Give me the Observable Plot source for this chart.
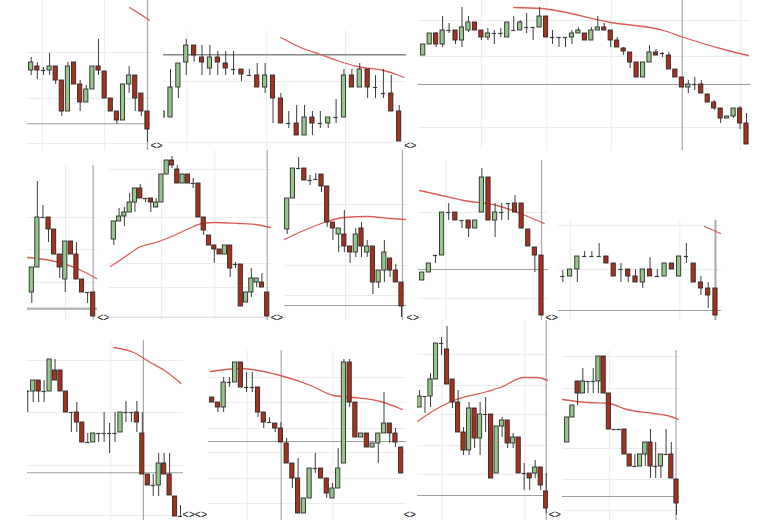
<!DOCTYPE html>
<html><head><meta charset="utf-8">
<script src="https://cdn.jsdelivr.net/npm/d3@7"></script>
<script src="https://cdn.jsdelivr.net/npm/@observablehq/plot@0.6"></script>
<style>
body{margin:0;background:#fff;}
#wrap{position:relative;width:774px;height:526px;overflow:hidden;background:#fff;}
.panel{position:absolute;}
.panel svg{overflow:visible;display:block;background:none;}
</style></head><body><div id="wrap"></div>
<script>
// Candles: [open, high, low, close]
const candlesA = [[80,93,75,88],[84,88,71,80],[80,83,75,80],[80,97,75,84],[84,84,66,70],[70,70,34,39],[39,88,39,84],[88,88,66,66],[66,70,39,48],[48,65,48,61],[61,84,61,84],[84,111,75,80],[79,79,52,52],[52,52,39,39],[39,39,26,30],[30,66,30,66],[66,84,57,75],[75,75,39,52],[57,57,34,39],[39,39,8,21]];
const candlesB = [[33,39,33,39],[33,81,33,63],[63,87,52,87],[88,111,75,105],[105,105,88,95],[93,105,75,88],[82,105,75,93],[93,99,75,88],[87,99,75,82],[81,99,75,81],[81,81,69,76],[75,81,75,75],[75,87,63,63],[63,87,57,75],[75,75,27,52],[52,57,27,27],[27,39,22,27],[27,45,15,15],[15,45,15,33],[33,39,15,27],[27,39,22,27],[27,33,22,33],[33,51,27,33],[33,81,33,75],[75,81,63,63],[63,87,63,81],[81,81,52,63],[63,75,52,63],[57,81,52,57],[57,75,39,39],[39,45,9,9]];
const candlesC = [[95,106,95,106],[106,117,106,117],[117,118,103,106],[106,134,103,120],[120,127,117,120],[120,120,106,110],[110,143,103,123],[120,134,118,128],[128,128,120,120],[120,120,110,113],[113,122,110,117],[117,120,106,117],[117,122,113,117],[113,128,113,128],[120,134,120,120],[120,130,120,128],[123,137,117,123],[123,123,110,123],[123,143,123,134],[134,134,113,113],[113,120,106,113],[113,113,103,113],[113,113,103,113],[113,120,106,117],[117,123,117,120],[117,117,110,110],[110,123,110,120],[120,134,120,123],[123,127,120,120],[120,120,103,110],[110,113,103,103],[102,103,95,99],[98,98,82,88],[88,88,73,73],[73,88,73,88],[88,105,88,98],[98,101,95,95],[97,98,93,97],[95,98,81,81],[81,81,73,73],[73,73,63,63],[63,70,57,66],[66,73,60,66],[66,70,57,57],[56,56,48,48],[48,50,40,42],[42,42,27,32],[32,34,32,34],[34,42,32,42],[42,44,21,27],[27,37,6,6]];
const candlesD = [[28,53,17,53],[53,139,53,103],[103,115,103,103],[103,103,78,91],[91,91,66,66],[66,66,42,53],[41,79,28,79],[79,79,66,66],[66,78,41,41],[41,41,28,28],[28,28,17,28],[28,28,4,4]];
const candlesE = [[81,99,75,99],[99,112,99,104],[104,113,94,108],[108,127,108,118],[118,132,108,132],[132,136,122,122],[122,122,118,122],[122,122,108,118],[113,122,113,118],[118,146,118,146],[146,160,146,160],[160,164,152,155],[151,155,137,137],[137,146,137,146],[146,146,137,137],[137,142,132,137],[137,137,103,103],[103,103,85,90],[85,85,75,75],[75,75,57,71],[71,71,66,66],[66,75,66,75],[75,75,43,52],[56,58,52,56],[56,56,14,14],[18,28,18,28],[28,52,23,42],[38,42,33,42],[38,47,33,33],[28,28,4,4]];
const candlesF = [[91,122,86,122],[122,152,122,152],[152,163,152,152],[152,152,140,140],[140,145,135,140],[141,147,141,141],[146,146,128,134],[134,134,93,98],[98,98,80,92],[86,92,68,92],[86,110,68,74],[74,74,57,68],[68,92,63,86],[92,98,63,74],[68,80,63,74],[74,74,26,38],[38,50,32,50],[50,80,38,68],[62,62,43,50],[50,56,38,38],[38,38,3,14]];
const candlesG = [[40,48,40,48],[48,57,48,57],[65,65,57,65],[65,108,65,108],[108,117,100,108],[108,108,100,100],[100,100,92,100],[100,100,83,92],[92,100,92,100],[108,152,108,143],[143,143,100,100],[100,117,83,108],[108,117,100,108],[117,117,100,117],[117,125,108,108],[117,117,92,92],[91,91,74,74],[73,73,48,65],[65,65,5,5]];
const candlesH = [[44,50,38,44],[44,51,44,51],[51,64,38,64],[64,69,64,64],[64,69,64,64],[64,77,64,64],[64,64,57,57],[57,57,44,44],[51,57,38,51],[51,51,38,44],[44,51,38,38],[38,51,32,51],[51,63,44,44],[44,51,44,44],[44,57,44,57],[57,57,51,51],[44,64,44,64],[64,77,57,64],[57,57,38,38],[38,44,25,32],[32,38,12,25],[32,32,5,5]];
const candlesI = [[135,136,114,135],[135,146,124,146],[146,146,124,135],[135,146,124,135],[135,167,135,167],[156,167,146,146],[156,156,135,135],[135,135,114,114],[114,114,94,114],[114,124,94,104],[104,104,84,84],[84,93,84,84],[84,93,84,93],[93,93,84,93],[93,114,84,93],[93,103,73,93],[93,114,84,93],[94,114,94,114],[114,125,104,114],[114,114,104,114],[114,125,94,104],[93,114,52,52],[52,52,41,41],[41,52,30,41],[41,73,30,63],[63,73,52,52],[52,73,31,31],[30,30,10,10],[10,21,10,10]];
const candlesJ = [[129,129,124,124],[124,124,114,119],[119,149,114,144],[144,149,139,144],[144,164,144,164],[164,164,139,139],[139,154,134,139],[139,154,134,139],[139,139,109,114],[114,114,98,104],[104,109,104,104],[103,103,94,98],[98,104,84,84],[83,88,63,63],[63,63,38,48],[48,68,13,13],[13,28,13,28],[28,58,28,58],[58,73,53,58],[58,58,48,48],[48,48,28,33],[28,43,28,38],[38,78,38,58],[63,167,63,164],[164,167,119,124],[124,124,89,89],[89,93,89,93],[93,93,79,79],[79,83,79,83],[83,93,63,93],[93,134,93,103],[103,103,83,93],[93,98,79,84],[79,79,53,53]];
const candlesK = [[119,136,119,130],[130,130,113,130],[130,153,119,147],[147,183,147,183],[183,189,171,183],[177,200,142,142],[147,147,118,124],[124,136,94,94],[94,99,71,76],[76,124,71,118],[118,118,78,88],[88,124,71,112],[112,129,94,112],[112,112,48,48],[53,100,53,100],[100,109,89,106],[106,106,78,83],[83,93,78,89],[89,89,53,53],[53,63,36,53],[53,53,36,48],[53,66,48,59],[59,59,36,41],[35,53,13,18]];
const candlesL = [[84,109,84,109],[109,121,109,121],[145,145,121,133],[133,158,133,145],[145,145,133,145],[145,158,133,145],[145,170,133,170],[170,170,133,133],[133,133,97,97],[97,97,97,97],[97,97,97,97],[97,97,72,72],[72,72,60,60],[60,72,60,60],[60,72,60,72],[72,84,60,84],[84,97,48,60],[60,84,48,60],[60,72,48,72],[72,97,72,72],[72,84,48,48],[47,47,11,23]];

// Moving averages: [bar index, value]
const maA = [[16.1,143],[19.4,130]];
const maB = [[15.0,113],[17.5,103],[20.0,96],[22.1,90],[24.7,84],[28.0,80],[29.7,76],[30.6,73]];
const maC = [[14.0,143],[18.2,142],[29.0,128],[37.2,120],[40.3,113],[47.1,100],[50.3,95]];
const maD = [[-0.8,63],[3.4,60],[8.1,52],[11.6,42]];
const maE = [[-0.6,54],[2.2,64],[4.7,73],[8.5,79],[11.0,84],[14.2,92],[16.7,97],[19.2,98],[23.6,97],[26.8,96],[29.6,93]];
const maF = [[-0.5,81],[2.9,90],[7.0,99],[9.9,103],[14.0,104],[18.1,102],[20.7,101]];
const maG = [[-0.4,130],[2.3,126],[6.3,120],[11.3,115],[14.8,107],[18.4,97]];
const maH = [[19.5,94],[21.7,87]];
const maI = [[15.8,179],[19.4,174],[22.5,164],[25.6,154],[28.1,143]];
const maJ = [[-0.3,155],[4.9,158],[11.9,151],[17.2,141],[21.2,131],[24.7,129],[29.4,125],[33.2,117]];
const maK = [[-0.4,105],[2.6,116],[6.2,126],[12.3,135],[14.7,139],[18.9,149],[21.4,149],[23.3,146]];
const maL = [[-0.9,127],[3.8,124],[8.0,123],[11.5,117],[16.6,113],[19.2,111],[21.4,107]];

// Reference levels (support line, cursor bar)
const levels = {A:[26.7,19],B:[95.7,null],C:[66,40.06],D:[11.7,11],E:[3.3,29],F:[15,20.17],G:[51,18],H:[10,21],I:[53.7,21.2],J:[85,12.05],K:[31,23],L:[30,20.9]};
const markerText = {A:"<>",B:"<>",D:"<>",E:"<>",F:"<>",G:"<>",I:"<><>",J:"<>",K:"<>"};

// Layout
const panels = [
 {id:"A",c:candlesA,ma:maA,left:27,top:0,w:123,h:150,yd:[0,150],x0:30.7,dx:6.12,gx:[1.85,12],gy:[98,52,7],my:5,mdx:3},
 {id:"B",c:candlesB,ma:maB,left:163,top:30,w:243,h:120,yd:[0,120],x0:162.1,dx:7.886,gx:[3.1,13.2,23.2],gy:[69,8],my:5,mdx:5,hc:"#858585",hw:1.6},
 {id:"C",c:candlesC,ma:maC,left:418,top:0,w:332,h:150,yd:[0,150],x0:422.7,dx:6.466,gx:[9,19.1,29.1,49.1],gy:[130,94,23]},
 {id:"D",c:candlesD,ma:maD,left:27,top:165,w:70,h:155,yd:[0,155],x0:31.3,dx:5.58,gx:[6.04],gy:[103,71,38],my:3.3,mdx:4,hc:"#b8b8b8",hw:2.6},
 {id:"E",c:candlesE,ma:maE,left:108,top:150,w:163,h:170,yd:[0,170],x0:113.3,dx:5.29,gx:[9,19.1],gy:[151,103,57,33],my:3.3,mdx:3.5,hc:"#dcdcdc"},
 {id:"F",c:candlesF,ma:maF,left:284,top:150,w:122,h:170,yd:[0,170],x0:286.7,dx:5.715,gx:[10.2],gy:[116,55,25],my:3.3,mdx:5},
 {id:"G",c:candlesG,ma:maG,left:418,top:160,w:130,h:160,yd:[0,160],x0:421.7,dx:6.628,gx:[3.6],gy:[108,22],my:3.3,mdx:4},
 {id:"H",c:candlesH,ma:maH,left:558,top:220,w:163,h:100,yd:[0,100],x0:562.3,dx:7.27,gx:[1.06,16.1],gy:[95,51],vw:2},
 {id:"I",c:candlesI,ma:maI,left:27,top:340,w:156,h:180,yd:[6,186],x0:27.24,dx:5.456,gx:[15.2],gy:[166,114,61,11],my:12,mdx:2},
 {id:"J",c:candlesJ,ma:maJ,left:208,top:350,w:198,h:170,yd:[6,176],x0:211.7,dx:5.727,gx:[6.1,21.1],gy:[149,124,98,74,48,23],my:12,mdx:2.5},
 {id:"K",c:candlesK,ma:maK,left:417,top:320,w:131,h:200,yd:[6,206],x0:419,dx:5.509,gx:[4.1,19.1],gy:[172,141,112,81,52],my:12,mdx:2.5},
 {id:"L",c:candlesL,ma:maL,left:562,top:350,w:117,h:170,yd:[6,176],x0:566.7,dx:5.205,gx:[8.1],gy:[170,138,78,47,16]}
];

const wrap = document.getElementById("wrap");
const GREEN = "#97c68a", RED = "#a8311d", OUT = "#2a2a2a", WICK = "#3c3c3c";
for (const p of panels) {
  const data = p.c.map(([o,h,l,c],i)=>({i,o,h,l,c}));
  const hw = 2.1 / p.dx;
  const bodies = data.filter(d=>d.o!==d.c);
  const dojis = data.filter(d=>d.o===d.c);
  const [hl, vl] = levels[p.id];
  const last = data.length - 1;
  const marks = [
    Plot.ruleX(p.gx, {stroke:"#ececec"}),
    Plot.ruleY(p.gy, {stroke:"#ececec"}),
    hl != null ? Plot.ruleY([hl], {stroke:p.hc||"#a0a0a0", strokeWidth:p.hw||1.1}) : null,
    vl != null ? Plot.ruleX([vl], {stroke:"#a8a8a8", strokeWidth:p.vw||1.2}) : null,
    Plot.line(p.ma, {x:d=>d[0], y:d=>d[1], stroke:"#dd5a56", strokeWidth:1.3, curve:"monotone-x", clip:true}),
    Plot.ruleX(data, {x:"i", y1:"l", y2:"h", stroke:WICK, strokeWidth:1, clip:true}),
    Plot.rect(bodies, {x1:d=>d.i-hw, x2:d=>d.i+hw, y1:"o", y2:"c", fill:d=>d.c>d.o?GREEN:RED, stroke:OUT, strokeWidth:0.9, clip:true}),
    Plot.ruleY(dojis, {y:"o", x1:d=>d.i-hw, x2:d=>d.i+hw, stroke:WICK, strokeWidth:1.2, clip:true})
  ];
  if (markerText[p.id]) {
    marks.push(Plot.text([markerText[p.id]], {x:()=>last, y:()=>p.my, text:d=>d, dx:p.mdx, textAnchor:"start", fontSize:10.5, fontFamily:"Liberation Sans", fill:"#111"}));
  }
  const chart = Plot.plot({
    width:p.w, height:p.h, margin:0,
    x:{domain:[(p.left-p.x0)/p.dx,(p.left+p.w-p.x0)/p.dx], axis:null},
    y:{domain:p.yd, axis:null},
    color:{type:"identity"},
    style:{overflow:"visible", background:"none"},
    marks: marks.filter(Boolean)
  });
  const div = document.createElement("div");
  div.className = "panel";
  div.style.left = p.left + "px";
  div.style.top = p.top + "px";
  div.style.width = p.w + "px";
  div.style.height = p.h + "px";
  div.appendChild(chart);
  wrap.appendChild(div);
}
</script>
</body></html>
